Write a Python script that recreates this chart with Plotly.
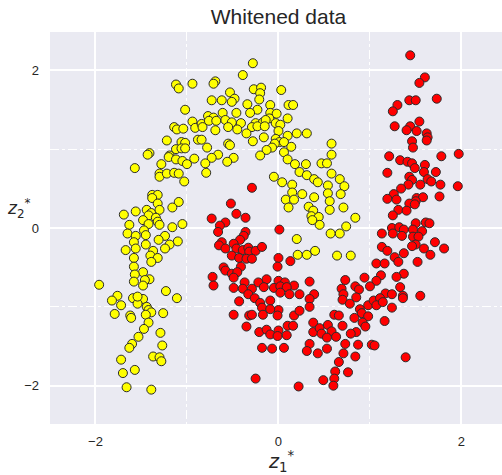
import plotly.graph_objects as go

# ---- data ----
yellow_x = [
    -1.12, -1.09, -0.94, -1.02, -0.94, -1.14, -1.11, -1.04, -0.91, -1.22,
    -1.06, -1.02, -0.88, -1.12, -1.06, -1.02, -1.41, -1.43, -1.19, -1.20,
    -1.12, -1.05, -0.92, -1.28, -1.00, -1.57, -0.28, -0.39, -0.69, -0.71,
    -0.27, -0.19, -0.20, 0.03, -0.53, -0.73, -0.62, -0.48, -0.51, -0.21,
    -0.34, -0.09, 0.11, 0.16, -0.23, -0.31, -0.61, -0.46, -0.09, -0.02,
    -0.77, -0.71, -0.10, 0.10, -0.84, -0.76, -0.68, -0.58, -0.51, -0.41,
    -0.25, -0.17, -0.03, -0.14, 0.02, -0.83, -0.55, -0.45, -0.29, -0.23,
    -0.15, -0.69, 0.00, -0.35, 0.10, 0.20, 0.31, -0.16, -0.03, -0.84,
    -0.28, 0.01, 0.06, -0.04, -0.55, -0.53, -0.78, 0.14, -0.07, -0.13,
    0.58, 0.06, -0.20, -0.66, -0.73, -0.49, 0.58, 0.10, -0.56, -0.80,
    0.18, 0.30, 0.47, 0.53, -1.30, -1.30, -1.22, -1.14, -1.09, -1.03,
    -1.38, -1.32, -1.38, -1.32, -1.09, -1.16, -1.69, -1.56, -1.44, -1.39,
    -1.30, -1.42, -1.48, -1.34, -1.32, -1.42, -1.63, -1.30, -1.05, -1.16,
    -1.47, -1.65, -1.56, -1.45, -1.24, -1.31, -1.10, -1.58, -1.45, -1.19,
    -1.24, -1.67, -1.56, -1.37, -1.40, -1.32, -1.58, -1.39, -1.58, -1.48,
    -1.57, -1.41, -1.46, -1.58, -1.48, -1.96, -1.23, -1.76, -1.82, -1.72,
    -1.59, -1.48, -1.54, -1.44, -1.42, -1.39, -1.45, -1.11, -1.26, -1.79,
    -1.62, -1.61, -1.42, -1.47, -1.29, -1.53, -1.60, -1.63, -1.27, -1.37,
    -1.30, -1.28, -1.72, -1.70, -1.57, -1.66, -1.39, -1.54, -0.79, 0.23,
    0.31, 0.39, 0.43, 0.58, 0.67, 0.72, 0.54, -0.05, 0.04, 0.15,
    0.15, 0.26, 0.08, 0.17, 0.39, 0.54, 0.68, 0.11, 0.33, 0.56,
    0.71, 0.38, 0.56, 0.36, 0.44, 0.45, 0.37, 0.74, 0.67, 0.57,
    0.20, 0.21, 0.31, 0.40, 0.64, 0.79, 0.84,
]
yellow_y = [
    1.82, 1.77, 1.83, 1.50, 1.35, 1.28, 1.25, 1.26, 1.27, 1.11,
    1.09, 1.08, 1.12, 1.00, 1.01, 1.01, 0.95, 0.93, 0.92, 0.90,
    0.87, 0.85, 0.88, 0.81, 0.81, 0.76, 2.09, 1.94, 1.86, 1.83,
    1.76, 1.78, 1.71, 1.75, 1.72, 1.62, 1.62, 1.64, 1.60, 1.63,
    1.57, 1.56, 1.56, 1.56, 1.50, 1.46, 1.46, 1.46, 1.46, 1.45,
    1.42, 1.40, 1.39, 1.39, 1.32, 1.36, 1.36, 1.37, 1.34, 1.33,
    1.33, 1.34, 1.33, 1.37, 1.31, 1.28, 1.28, 1.25, 1.28, 1.29,
    1.29, 1.24, 1.23, 1.20, 1.17, 1.20, 1.20, 1.15, 1.13, 1.12,
    1.10, 1.09, 1.09, 1.07, 1.07, 1.05, 1.02, 1.03, 1.02, 0.99,
    1.07, 0.96, 0.92, 0.93, 0.89, 0.89, 0.93, 0.87, 0.84, 0.82,
    0.81, 0.81, 0.82, 0.82, 0.69, 0.65, 0.69, 0.70, 0.69, 0.59,
    0.42, 0.42, 0.38, 0.31, 0.33, 0.26, 0.17, 0.21, 0.23, 0.19,
    0.23, 0.16, 0.10, 0.13, 0.08, 0.05, 0.04, 0.04, 0.05, 0.01,
    -0.03, -0.07, -0.10, -0.09, -0.10, -0.15, -0.17, -0.18, -0.21, -0.21,
    -0.26, -0.28, -0.26, -0.29, -0.35, -0.38, -0.38, -0.43, -0.49, -0.56,
    -0.59, -0.65, -0.66, -0.68, -0.73, -0.72, -0.80, -0.86, -0.92, -0.98,
    -0.89, -0.90, -0.96, -1.00, -1.04, -1.07, -1.10, -0.89, -1.08, -1.09,
    -1.11, -1.14, -1.20, -1.28, -1.33, -1.38, -1.47, -1.52, -1.49, -1.63,
    -1.64, -1.69, -1.67, -1.84, -1.80, -2.02, -2.05, -0.87, 0.70, 0.71,
    0.67, 0.62, 0.58, 0.69, 0.62, 0.53, 0.54, 0.65, 0.58, 0.55,
    0.45, 0.43, 0.36, 0.36, 0.39, 0.44, 0.43, 0.26, 0.27, 0.34,
    0.26, 0.22, 0.23, 0.15, 0.14, 0.04, 0.10, 0.02, -0.07, -0.07,
    -0.14, -0.34, -0.34, -0.29, -0.35, -0.35, 0.13,
]

red_x = [
    1.44, 1.60, 1.54, 1.73, 1.30, 1.43, 1.50, 1.25, 1.54, 1.27,
    1.44, 1.40, 1.51, 1.62, 1.63, 1.62, 1.46, 1.47, 1.21, 1.33,
    1.41, 1.46, 1.60, 1.78, 1.97,
    -0.29, -0.52, -0.46, -0.36, -0.73, -0.58, -0.64, -0.66, -0.36, 0.01,
    -0.38, -0.42, -0.49, -0.62, -0.65, -0.58, -0.46, -0.39, -0.33, -0.32,
    -0.25, -0.18, -0.51, -0.43, -0.35, -0.29, 0.00, 0.13, -0.60, -0.58,
    -0.41, -0.01, -0.51, -0.45, -0.49, -0.72, -0.71, -0.37, -0.22, -0.13,
    0.00, 0.07, 0.17, 0.34, 0.73, -0.49, -0.39, -0.29, -0.16, -0.05,
    0.02, 0.09, 0.69, -0.33, 0.02, 0.12, 0.23, 0.39, 0.71,
    1.49, 1.59, 1.72, 1.19, 1.43, 1.46, 1.42, 1.55, 1.63, 1.67,
    1.77, 1.96, 1.34, 1.26, 1.19, 1.29, 1.51, 1.58, 1.76, 1.50,
    1.43, 1.49, 1.31, 1.40, 1.25, 1.50, 1.61, 1.65, 1.24, 1.32,
    1.37, 1.13, 1.25, 1.35, 1.47, 1.57, 1.47, 1.53, 1.71, 1.50,
    1.46, 1.13, 1.19, 1.59, 1.81, 1.37, 1.66, 1.27, 1.31, 1.07,
    1.16, 1.52, 1.37, 1.12, 1.29, 0.94, 1.07, 1.00, 0.84, 1.33,
    0.88, 1.17, 1.24, 1.36, 1.55,
    -0.43, -0.26, -0.20, -0.09, 0.34, 0.34, -0.18, 0.00, -0.09, -0.49,
    -0.32, -0.29, -0.17, -0.01, 0.17, 0.23, -0.35, -0.21, -0.13, -0.09,
    0.00, -0.01, 0.10, 0.16, 0.09, -0.18, -0.07, 0.06, 0.38, 0.38,
    0.45, 0.47, 0.54, 0.58, 0.53, 0.63, 0.61, 0.70, 0.66, 0.70,
    0.78, 0.34, 0.31, 0.43, 0.53, 0.73, 0.71, 0.66, 0.62, 0.76,
    0.61, 0.49, 0.60, -0.25, 0.22,
    0.85, 0.89, 0.91, 0.98, 1.04, 1.11, 1.07, 1.14, 0.98, 0.83,
    0.92, 0.95, 0.85, 0.79, 1.16, 1.24, 1.36, 0.87, 1.02, 1.05,
    0.84, 1.39,
]
red_y = [
    2.19, 1.91, 1.84, 1.64, 1.56, 1.62, 1.62, 1.48, 1.35, 1.29,
    1.29, 1.24, 1.23, 1.20, 1.15, 1.11, 1.10, 1.02, 0.91, 0.86,
    0.84, 0.82, 0.80, 0.91, 0.94,
    0.51, 0.31, 0.18, 0.13, 0.12, 0.07, 0.03, -0.05, -0.05, -0.02,
    -0.10, -0.15, -0.20, -0.18, -0.22, -0.26, -0.26, -0.28, -0.25, -0.30,
    -0.29, -0.24, -0.35, -0.38, -0.39, -0.39, -0.38, -0.42, -0.50, -0.54,
    -0.49, -0.49, -0.58, -0.56, -0.63, -0.62, -0.73, -0.69, -0.69, -0.65,
    -0.67, -0.69, -0.73, -0.68, -0.66, -0.76, -0.77, -0.77, -0.75, -0.76,
    -0.74, -0.75, -0.77, -0.84, -0.82, -0.84, -0.84, -0.84, -0.84,
    0.76, 0.71, 0.71, 0.70, 0.65, 0.61, 0.55, 0.55, 0.62, 0.59,
    0.55, 0.53, 0.50, 0.43, 0.37, 0.36, 0.38, 0.39, 0.40, 0.34,
    0.31, 0.30, 0.23, 0.22, 0.16, 0.06, 0.07, 0.06, 0.00, 0.01,
    -0.02, -0.07, -0.07, -0.10, -0.02, -0.04, -0.11, -0.11, -0.18, -0.21,
    -0.23, -0.24, -0.29, -0.26, -0.26, -0.32, -0.34, -0.37, -0.43, -0.45,
    -0.45, -0.43, -0.58, -0.60, -0.62, -0.63, -0.67, -0.74, -0.74, -0.75,
    -0.78, -0.83, -0.84, -0.86, -0.86,
    -0.93, -0.89, -0.95, -0.92, -0.90, -1.00, -1.01, -1.04, -1.03, -1.10,
    -1.11, -1.10, -1.10, -1.11, -1.11, -1.05, -1.25, -1.32, -1.29, -1.35,
    -1.30, -1.37, -1.24, -1.24, -1.36, -1.52, -1.53, -1.52, -1.20, -1.32,
    -1.27, -1.34, -1.23, -1.31, -1.39, -1.38, -1.10, -1.24, -1.11, -0.91,
    -0.96, -1.47, -1.56, -1.59, -1.53, -1.47, -1.59, -1.70, -1.82, -1.83,
    -1.91, -1.93, -2.00, -1.91, -2.01,
    -0.88, -1.03, -1.08, -0.98, -0.92, -0.89, -0.98, -0.94, -1.12, -1.14,
    -1.20, -1.25, -1.32, -1.34, -1.18, -1.01, -0.89, -1.48, -1.48, -1.49,
    -1.63, -1.64,
]

major_ticks = [-2, 0, 2]
minor_ticks = [-1, 1]
title_text = "Whitened data"
x_label = "<i>z</i><sub>1</sub><sup>*</sup>"
y_label = "<i>z</i><sub>2</sub><sup>*</sup>"

assert len(yellow_x) == len(yellow_y)
assert len(red_x) == len(red_y)

# ---- figure ----
W, H = 502, 475
ML, MR, MT, MB = 50, 0, 32, 51
PW, PH = W - ML - MR, H - MT - MB


def px_to_paper(px, py):
    return (px - ML) / PW, (H - MB - py) / PH


fig = go.Figure()
marker_line = dict(color="#2b2b2b", width=1)
fig.add_trace(go.Scatter(x=yellow_x, y=yellow_y, mode="markers",
                         marker=dict(color="#FFFF00", size=9, line=marker_line),
                         hoverinfo="skip"))
fig.add_trace(go.Scatter(x=red_x, y=red_y, mode="markers",
                         marker=dict(color="#FF0000", size=9, line=marker_line),
                         hoverinfo="skip"))

tick_font = dict(family="Liberation Sans, Arial, sans-serif", size=13, color="#262626")
axis_common = dict(
    tickvals=major_ticks, showgrid=True, gridcolor="white", gridwidth=1.6,
    zeroline=False, showline=False, ticks="", tickfont=tick_font,
    minor=dict(tickvals=minor_ticks, showgrid=True, gridcolor="white",
               griddash="dashdot", gridwidth=1),
    fixedrange=True,
)

fig.update_layout(
    width=W, height=H,
    margin=dict(l=ML, r=MR, t=MT, b=MB, pad=0),
    plot_bgcolor="#EAEAF2", paper_bgcolor="white",
    showlegend=False,
    xaxis=dict(range=[-2.497, 2.443], ticklabelstandoff=8, **axis_common),
    yaxis=dict(range=[-2.486, 2.486], ticklabelstandoff=10, **axis_common),
    title=dict(text=title_text, x=(278.5 - ML) / PW, xref="paper", xanchor="center",
               y=1 - 17 / H, yref="container", yanchor="middle",
               font=dict(family="Liberation Sans, Arial, sans-serif", size=21, color="#262626")),
)

xl, yl = px_to_paper(281, 461)
fig.add_annotation(text=x_label, x=xl, y=yl, xref="paper", yref="paper",
                   xanchor="center", yanchor="middle", showarrow=False,
                   font=dict(family="DejaVu Sans, sans-serif", size=19, color="#262626"))

xl2, yl2 = px_to_paper(19, 208)
fig.add_annotation(text=y_label, x=xl2, y=yl2, xref="paper", yref="paper",
                   xanchor="center", yanchor="middle", showarrow=False,
                   font=dict(family="DejaVu Sans, sans-serif", size=17, color="#262626"))

fig.write_html("out.html", config={"displayModeBar": False})
